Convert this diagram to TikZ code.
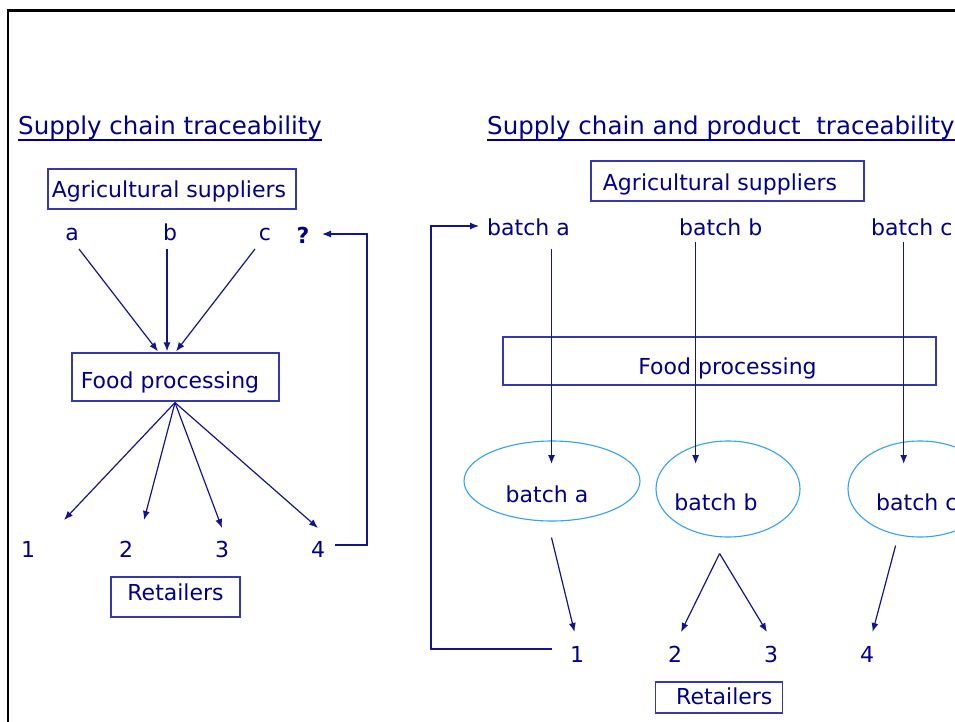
\documentclass[tikz,border=0pt]{standalone}
\usepackage{fontspec}
\setmainfont{DejaVu Sans}
\usetikzlibrary{arrows.meta,calc,shapes.geometric}
\definecolor{ink}{RGB}{0,0,140}
\definecolor{wire}{RGB}{20,20,145}
\definecolor{boxline}{RGB}{55,55,175}
\definecolor{oval}{RGB}{51,160,250}

\begin{document}
\begin{tikzpicture}[x=1pt,y=-1pt,
  lbl/.style={inner sep=0pt, text=ink, font=\fontsize{22}{26}\selectfont},
  ttl/.style={inner sep=0pt, text=ink, font=\fontsize{24.5}{28}\selectfont, anchor=base west},
  boxnode/.style={draw=boxline, line width=1.2pt, text=ink, font=\fontsize{22}{26}\selectfont,
                  inner sep=0pt, text depth=4pt},
  batchoval/.style={draw=oval, ellipse, line width=1.1pt, inner sep=0pt},
  arr/.style={draw=wire, line width=1.2pt, -{Latex[length=9pt,width=7pt]}},
  frame/.style={draw=black, line width=2.5pt},
  uline/.style={draw=ink, line width=2pt}]

\useasboundingbox (0,0) rectangle (955,722);

% slide frame
\draw[frame] (8,740) -- (8,10.7) -- (970,10.7);

% ---------------- left panel: supply chain traceability ----------------
\node[ttl] (t1) at (18,135) {Supply chain traceability};
\draw[uline] ($(t1.base west)+(0,5)$) -- ($(t1.base east)+(0,5)$);

\node[boxnode, minimum width=248pt, minimum height=40pt, text height=20pt] (lag) at (172,189)
  {\hspace*{-6pt}Agricultural suppliers};

\node[lbl, anchor=base] (la) at (72,240) {a};
\node[lbl, anchor=base] (lb) at (170,240) {b};
\node[lbl, anchor=base] (lc) at (265,240) {c};
\node[lbl, anchor=base, font=\fontsize{22}{26}\selectfont\bfseries] (lq) at (303,243) {?};

\node[boxnode, minimum width=207pt, minimum height=48pt, text height=26pt] (lfp) at (175.5,377)
  {\hspace*{-11pt}Food processing};

\draw[arr] ($(la.base)+(7,9)$) -- ($(lfp.north)+(-17.5,-1)$);
\draw[arr] ($(lb.base)+(-3,9)$) -- ($(lfp.north)+(-8.5,-1)$);
\draw[arr] ($(lc.base)+(-10,9)$) -- ($(lfp.north)+(0.5,-1)$);

\node[lbl, anchor=base] (n1) at (28,557) {1};
\node[lbl, anchor=base] (n2) at (126,557) {2};
\node[lbl, anchor=base] (n3) at (222,557) {3};
\node[lbl, anchor=base] (n4) at (318,557) {4};

\draw[arr] ($(lfp.south)+(-0.5,1)$) -- ($(n1.base)+(36,-37)$);
\draw[arr] ($(lfp.south)+(-0.5,1)$) -- ($(n2.base)+(18,-37)$);
\draw[arr] ($(lfp.south)+(-0.5,1)$) -- ($(n3.base)+(0,-29)$);
\draw[arr] ($(lfp.south)+(-0.5,1)$) -- ($(n4.base)+(0,-29)$);

\node[boxnode, minimum width=129pt, minimum height=40pt, text height=10pt] (lret) at (175.5,597)
  {Retailers};

% trace back from retailer 4 to an unknown supplier
\draw[arr] ($(n4.base)+(17,-12)$) -- ++(32,0) |- ($(lq.base)+(19,-9)$);

% ---------------- right panel: supply chain and product traceability ----------------
\node[ttl] (t2) at (487,135) {Supply chain and product~ traceability};
\draw[uline] ($(t2.base west)+(0,5)$) -- ($(t2.base east)+(0,5)$);

\node[boxnode, minimum width=273pt, minimum height=40pt, text height=22pt] (rag) at (727.5,181)
  {\hspace*{-15pt}Agricultural suppliers};

\node[lbl, anchor=base west] (ba) at (487,235) {batch a};
\node[lbl, anchor=base west] (bb) at (679,235) {batch b};
\node[lbl, anchor=base west] (bc) at (871,235) {batch c};

\node[boxnode, minimum width=433pt, minimum height=48pt, text height=30pt] (rfp) at (719.5,361)
  {\hspace*{16pt}Food processing};

\node[batchoval, minimum width=176pt, minimum height=80pt] (ea) at (552,481) {};
\node[batchoval, minimum width=144pt, minimum height=96pt] (eb) at (728,489) {};
\node[batchoval, minimum width=144pt, minimum height=96pt] (ec) at (920,489) {};
\node[lbl, anchor=base] (eat) at (547,502) {batch a};
\node[lbl, anchor=base] (ebt) at (716,510) {batch b};
\node[lbl, anchor=base west] (ect) at (876,510) {batch c};

\draw[arr] ($(ba.base west)+(64.5,14)$) -- ($(ea.center)+(-0.5,-17)$);
\draw[arr] ($(bb.base west)+(16.6,7)$) -- ($(eb.center)+(-32.4,-25)$);
\draw[arr] ($(bc.base west)+(32.7,7)$) -- ($(ec.center)+(-16.3,-25)$);

\node[lbl, anchor=base] (r1) at (577,662) {1};
\node[lbl, anchor=base] (r2) at (675,662) {2};
\node[lbl, anchor=base] (r3) at (771,662) {3};
\node[lbl, anchor=base] (r4) at (867,662) {4};

\draw[arr] ($(ea.south)+(-0.5,16)$) -- ($(r1.base)+(-2.5,-30)$);
\draw[arr] ($(eb.south)+(-8.4,16)$) -- ($(r2.base)+(6,-30)$);
\draw[arr] ($(eb.south)+(-8.4,16)$) -- ($(r3.base)+(-4,-30)$);
\draw[arr] ($(ec.south)+(-24.4,8)$) -- ($(r4.base)+(5.6,-30)$);

\node[boxnode, minimum width=127pt, minimum height=31pt, text height=17pt] (rret) at (719.3,697.5)
  {\hspace*{10pt}Retailers};

% trace back from retailer 1 to batch a
\draw[arr] ($(r1.base)+(-25.5,-13)$) -- ++(-120.5,0) |- ($(ba.base west)+(-8,-9)$);

\end{tikzpicture}
\end{document}
